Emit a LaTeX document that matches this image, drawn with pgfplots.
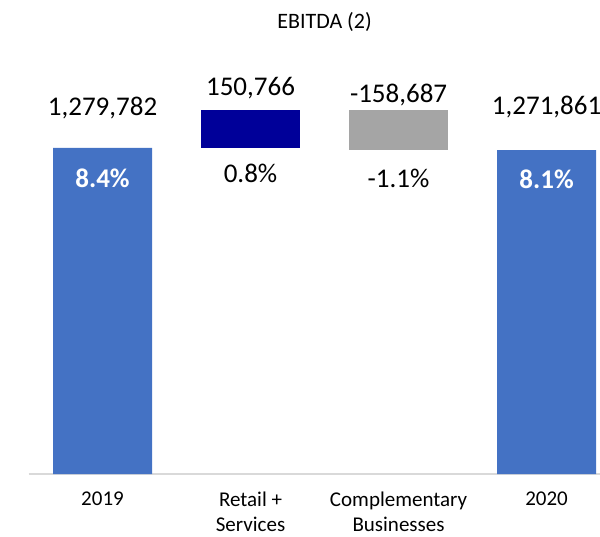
\documentclass[border=0pt]{standalone}
\usepackage{fontspec}
\setmainfont{Carlito}
\usepackage{pgfplots}
\pgfplotsset{compat=1.18}
\definecolor{cblue}{HTML}{4472C4}
\definecolor{cnavy}{HTML}{000099}
\definecolor{cgray}{HTML}{A5A5A5}
\definecolor{caxis}{HTML}{D9D9D9}
\begin{document}
\begin{tikzpicture}
\begin{axis}[
  at={(28.5pt,62pt)}, anchor=south west,
  scale only axis, width=571.5pt, height=474pt,
  xmin=-0.5, xmax=3.361, ymin=0, ymax=1860795,
  ybar stacked, bar width=99pt,
  axis x line=bottom, axis y line=none,
  x axis line style={draw=caxis, line width=1.5pt, -},
  xtick={0,1,2,3},
  xticklabels={{2019},{Retail +\\Services},{Complementary\\Businesses},{2020}},
  xticklabel style={align=center, font=\fontsize{21}{24.5}\selectfont, text=black, yshift=-17pt, inner sep=1pt},
  major tick length=0pt,
  ytick=\empty,
  clip=false,
]
\addplot[draw=none, fill=none, forget plot] coordinates {(0,0) (1,1279782) (2,1271861) (3,0)};
\addplot[draw=none, fill=cblue, forget plot] coordinates {(0,1279782) (1,0) (2,0) (3,1271861)};
\addplot[draw=none, fill=cnavy, forget plot] coordinates {(0,0) (1,150766) (2,0) (3,0)};
\addplot[draw=none, fill=cgray, forget plot] coordinates {(0,0) (1,0) (2,158687) (3,0)};
\coordinate (t) at (axis cs:1.5,1774400);
\coordinate (v0) at (axis cs:0,1436800);
\coordinate (v1) at (axis cs:1,1515300);
\coordinate (v2) at (axis cs:2,1487800);
\coordinate (v3) at (axis cs:3,1440700);
\coordinate (p0) at (axis cs:0,1162000);
\coordinate (p1) at (axis cs:1,1181600);
\coordinate (p2) at (axis cs:2,1162000);
\coordinate (p3) at (axis cs:3,1158100);
\end{axis}
\node[font=\fontsize{22}{26}\selectfont] at (t) {EBITDA (2)};
\node[font=\fontsize{27}{30}\selectfont] at (v0) {1,279,782};
\node[font=\fontsize{27}{30}\selectfont] at (v1) {150,766};
\node[font=\fontsize{27}{30}\selectfont] at (v2) {-158,687};
\node[font=\fontsize{27}{30}\selectfont] at (v3) {1,271,861};
\node[font=\fontsize{27}{30}\selectfont\bfseries, text=white] at (p0) {8.4\%};
\node[font=\fontsize{27}{30}\selectfont] at (p1) {0.8\%};
\node[font=\fontsize{27}{30}\selectfont] at (p2) {-1.1\%};
\node[font=\fontsize{27}{30}\selectfont\bfseries, text=white] at (p3) {8.1\%};
\pgfresetboundingbox
\useasboundingbox (0,0) rectangle (600pt,536pt);
\end{tikzpicture}
\end{document}
